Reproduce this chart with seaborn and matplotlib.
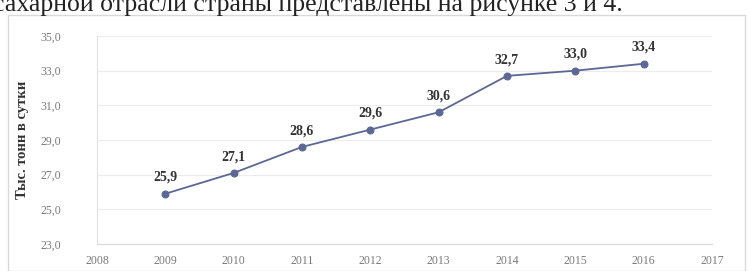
import pandas as pd
import matplotlib.pyplot as plt
import seaborn as sns
from matplotlib.ticker import FuncFormatter
from matplotlib.patches import Rectangle

years = [2009, 2010, 2011, 2012, 2013, 2014, 2015, 2016]
values = [25.9, 27.1, 28.6, 29.6, 30.6, 32.7, 33.0, 33.4]
value_labels = ['25,9', '27,1', '28,6', '29,6', '30,6', '32,7', '33,0', '33,4']
x_ticks = [2008, 2009, 2010, 2011, 2012, 2013, 2014, 2015, 2016, 2017]
y_ticks = [23, 25, 27, 29, 31, 33, 35]

data = pd.DataFrame({'year': years, 'value': values})

sns.set_style('white')
plt.rcParams['font.family'] = ['Liberation Serif', 'DejaVu Serif']

W, H = 751, 271
fig = plt.figure(figsize=(W / 100, H / 100), dpi=100)

# текст над рисунком (обрезан сверху, как на скане)
fig.text(623 / W, 1 - 11 / H, 'сахарной отрасли страны представлены на рисунке 3 и 4.',
         ha='right', va='baseline', fontsize=18.5, color='#222222')

# рамка диаграммы
fig.add_artist(Rectangle((8 / W, 0), 737 / W, 1 - 15 / H, transform=fig.transFigure,
                         fill=False, edgecolor='#d9d9d9', linewidth=1))

ax = fig.add_axes([97 / W, 27 / H, 615 / W, 208 / H])
sns.lineplot(x='year', y='value', data=data, color='#5b6896', marker='o',
             markersize=5, markeredgecolor='#5b6896', linewidth=1.3, ax=ax)

for x, y, t in zip(years, values, value_labels):
    ax.annotate(t, (x, y), xytext=(0, 7), textcoords='offset points',
                ha='center', va='bottom', fontsize=10, fontweight='bold', color='#333333')

ax.set_xlim(2008, 2017)
ax.set_ylim(23, 35)
ax.set_xticks(x_ticks)
ax.set_yticks(y_ticks)
ax.yaxis.set_major_formatter(FuncFormatter(lambda v, p: f'{v:.1f}'.replace('.', ',')))
ax.tick_params(axis='both', labelsize=8.5, labelcolor='#7a7a7a', length=0)
ax.tick_params(axis='y', pad=26)
ax.tick_params(axis='x', pad=8)
ax.grid(True, axis='y', color='#ececec', linewidth=0.8)
ax.set_xlabel('')
ax.set_ylabel('Тыс. тонн в сутки', fontsize=10.5, fontweight='bold', color='#333333', labelpad=8)
for s in ['top', 'right']:
    ax.spines[s].set_visible(False)
ax.spines['left'].set_color('#e0e0e0')
ax.spines['bottom'].set_color('#d9d9d9')

plt.savefig('out.png', dpi=100)
